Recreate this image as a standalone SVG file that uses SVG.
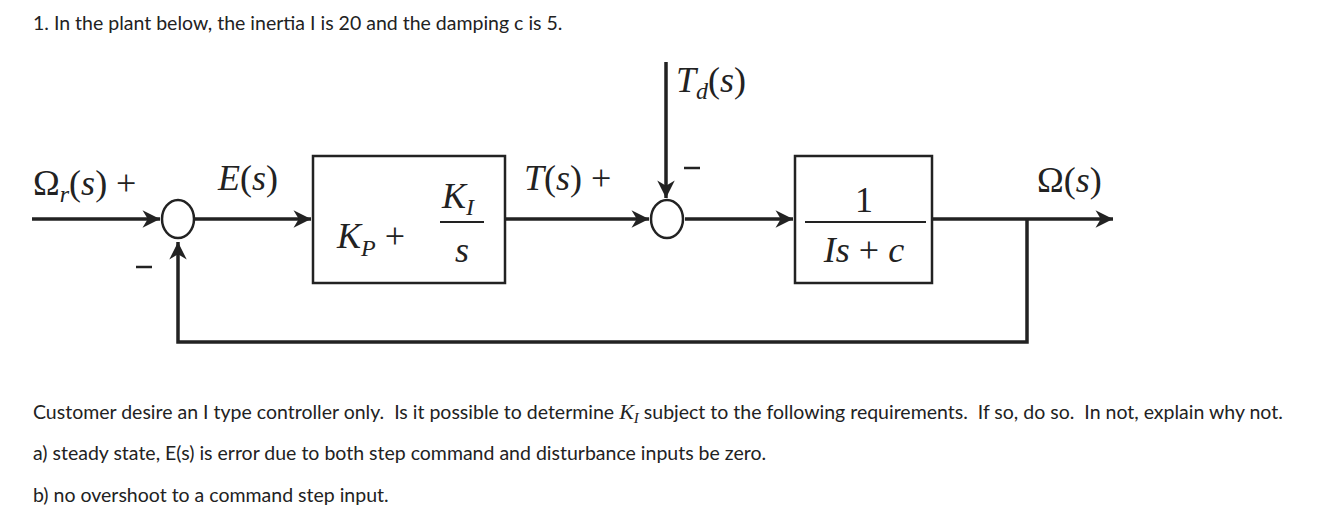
<svg xmlns="http://www.w3.org/2000/svg" width="1341" height="512" viewBox="0 0 1341 512">
<style>
.t{font-family:Lato,"Liberation Sans",sans-serif;font-size:19.5px;fill:#222;white-space:pre}
.m{font-family:"Liberation Serif",serif;font-size:36px;font-style:italic;fill:#222}
.n{font-family:"Liberation Serif",serif;font-size:36px;fill:#222}
.u{font-style:normal}
.ln{stroke:#222;stroke-width:3.5;fill:none}
.bx{stroke:#222;stroke-width:2.5;fill:#fff}
.mi{stroke:#222;stroke-width:2.5}
</style>
<defs><marker id="a" viewBox="0 0 10 10" refX="10" refY="5" markerWidth="7" markerHeight="5" orient="auto" markerUnits="strokeWidth"><path d="M0,0 L10,5 L0,10 L3,5 Z" fill="#222"/></marker></defs>
<rect width="1341" height="512" fill="#fff"/>
<text class="t" x="33" y="30">1. In the plant below, the inertia I is 20 and the damping c is 5.</text>
<g id="connectors">
<line class="ln" x1="32" y1="219" x2="160" y2="219" marker-end="url(#a)"/>
<line class="ln" x1="195" y1="219" x2="311" y2="219" marker-end="url(#a)"/>
<line class="ln" x1="506" y1="219" x2="649" y2="219" marker-end="url(#a)"/>
<line class="ln" x1="685" y1="219" x2="793" y2="219" marker-end="url(#a)"/>
<line class="ln" x1="933" y1="219" x2="1113" y2="219" marker-end="url(#a)"/>
<line class="ln" x1="666" y1="62" x2="666" y2="198" marker-end="url(#a)"/>
<polyline class="ln" points="1027,219 1027,342 178,342 178,242" marker-end="url(#a)"/>
</g>
<g id="sum1"><ellipse cx="178" cy="219" rx="16" ry="19" fill="#fff" stroke="#222" stroke-width="2.5"/></g>
<g id="sum2"><ellipse cx="667" cy="219" rx="16" ry="19" fill="#fff" stroke="#222" stroke-width="2.5"/></g>
<g id="controller"><rect class="bx" x="313" y="156" width="192" height="127"/>
<text class="m" x="337" y="248">K<tspan font-size="24" dy="8">P</tspan><tspan class="u" dy="-8"> +</tspan></text>
<line x1="440" y1="222" x2="484" y2="222" stroke="#222" stroke-width="2"/>
<text class="m" x="442" y="208">K<tspan font-size="24" dy="7">I</tspan></text>
<text class="m" x="455" y="262">s</text></g>
<g id="plant"><rect class="bx" x="795" y="156" width="137" height="127"/>
<text class="n" x="864" y="212" text-anchor="middle">1</text>
<line x1="805" y1="222" x2="926" y2="222" stroke="#222" stroke-width="2"/>
<text class="m" x="864" y="262" text-anchor="middle">Is <tspan class="u">+</tspan> c</text></g>
<g id="labels">
<text class="n" x="33" y="195">Ω<tspan font-style="italic" font-size="24" dy="7">r</tspan><tspan dy="-7">(</tspan><tspan font-style="italic">s</tspan>) +</text>
<text class="m" x="218" y="190">E<tspan class="u">(</tspan>s<tspan class="u">)</tspan></text>
<text class="m" x="524" y="190">T<tspan class="u">(</tspan>s<tspan class="u">)</tspan><tspan class="u"> +</tspan></text>
<text class="m" x="676" y="92">T<tspan font-size="24" dy="7">d</tspan><tspan class="u" dy="-7">(</tspan>s<tspan class="u">)</tspan></text>
<line class="mi" x1="684" y1="168" x2="700" y2="168"/>
<line class="mi" x1="136" y1="267" x2="152" y2="267"/>
<text class="n" x="1037" y="192">Ω(<tspan font-style="italic">s</tspan>)</text>
</g>
<text class="t" x="33" y="419">Customer desire an I type controller only.  Is it possible to determine <tspan font-family="Liberation Serif,serif" font-style="italic" font-size="22">K<tspan font-size="15" dy="4">I</tspan></tspan><tspan dy="-4"> subject to the following requirements.  If so, do so.  In not, explain why not.</tspan></text>
<text class="t" x="33" y="460">a) steady state, E(s) is error due to both step command and disturbance inputs be zero.</text>
<text class="t" x="33" y="502">b) no overshoot to a command step input.</text>
</svg>
